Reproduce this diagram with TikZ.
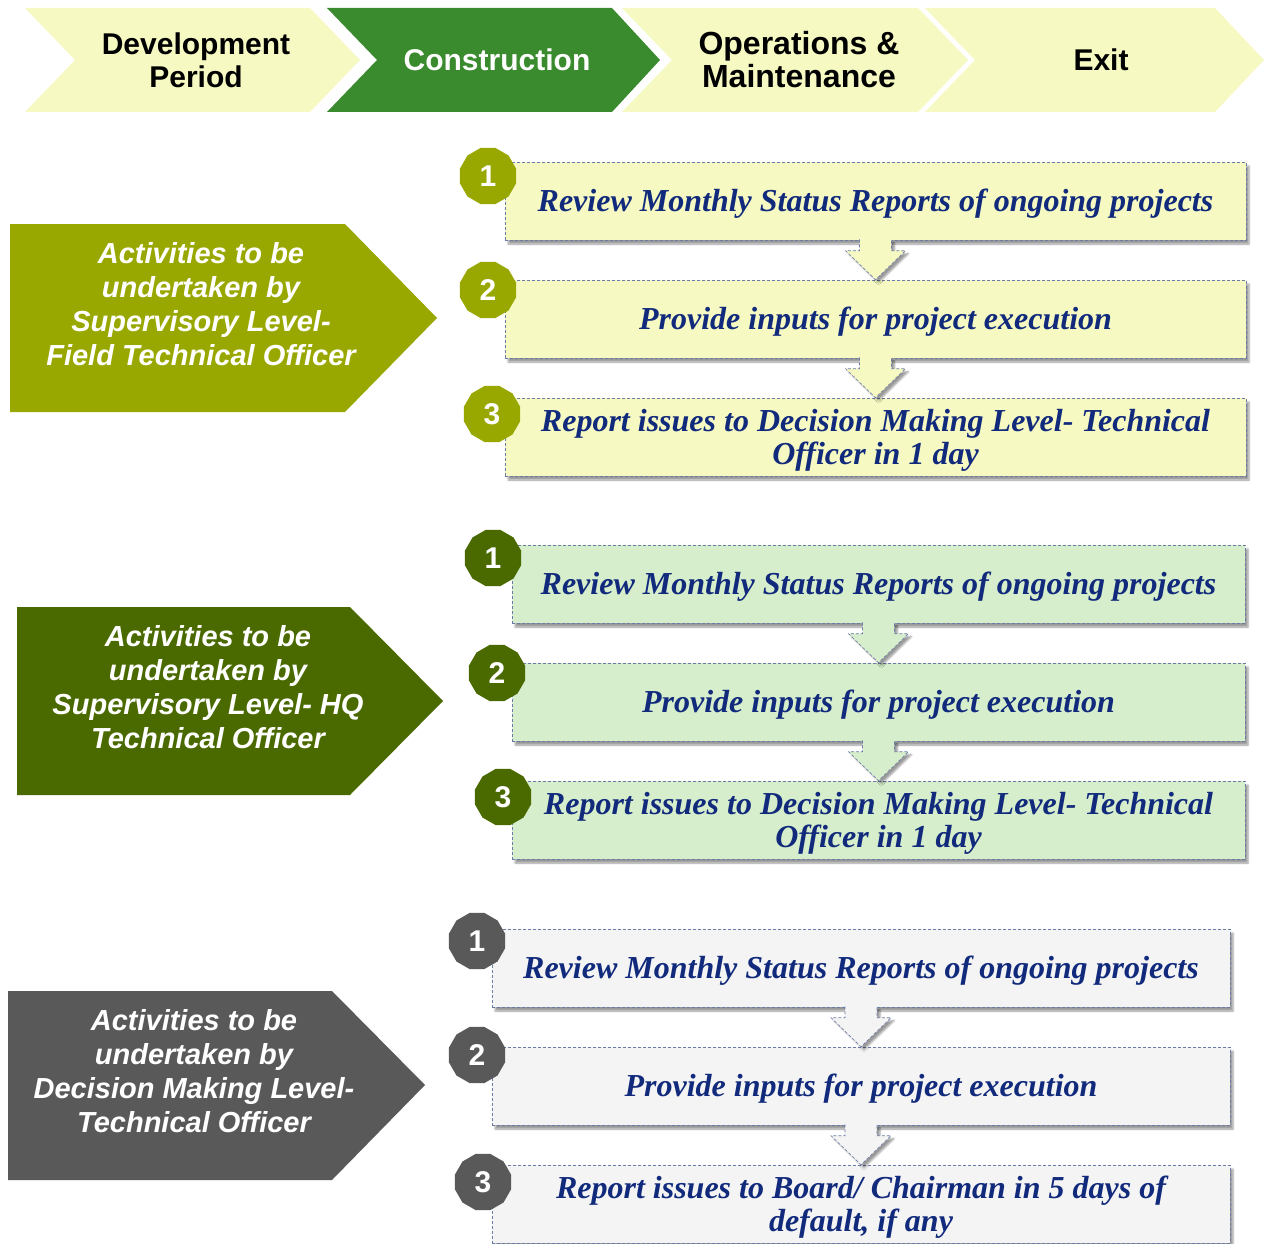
\documentclass[tikz,border=0pt]{standalone}
\usepackage{fontspec}
\setmainfont{Liberation Serif}
\setsansfont{Liberation Sans}
\usetikzlibrary{shapes.geometric,calc,shadows,shadows.blur}

\definecolor{paleY}{HTML}{F6FAC2}
\definecolor{buildG}{HTML}{3A8A2E}
\definecolor{olive}{HTML}{99A800}
\definecolor{forest}{HTML}{4A6A00}
\definecolor{slate}{HTML}{595959}
\definecolor{mint}{HTML}{D6EECB}
\definecolor{mist}{HTML}{F4F4F4}
\definecolor{navy}{HTML}{112A7C}
\definecolor{edge}{HTML}{6A7BA8}

\tikzset{
  phasetext/.style={font=\fontsize{30}{33}\selectfont\sffamily\bfseries, align=center, inner sep=0},
  roletext/.style={font=\fontsize{29}{34}\selectfont\sffamily\bfseries\itshape, text=white, align=center, inner sep=0},
  stepbox/.style={draw=edge, densely dashed, line width=0.6pt, inner sep=0,
    minimum height=78pt,
    blur shadow={shadow xshift=3pt, shadow yshift=-4pt}},
  steptext/.style={font=\fontsize{32}{33}\selectfont\bfseries\itshape, text=navy, align=center, inner sep=0},
  badge/.style={regular polygon, regular polygon sides=12, minimum size=58pt, inner sep=0,
    text=white, font=\fontsize{30}{30}\selectfont\sffamily\bfseries},
  flowarrow/.style={draw=edge, densely dashed, line width=0.6pt,
    blur shadow={shadow xshift=3pt, shadow yshift=-3pt}},
}

% block arrow from the bottom of one step box to the top of the next
\newcommand\blockarrow[3]{%
  \path[flowarrow, fill=#3]
    ($(#1.south)+(-16,-1)$) -- ($(#2.north)+(-16,-29)$) -- ($(#2.north)+(-30,-29)$)
    -- (#2.north) -- ($(#2.north)+(30,-29)$) -- ($(#2.north)+(16,-29)$)
    -- ($(#1.south)+(16,-1)$);}

% caption of a step box, set on the box centre
\newcommand\steplabel[2]{\node[steptext] (#1t) at ([yshift=-3pt]#1.center) {#2};}

\begin{document}
\begin{tikzpicture}[x=1pt, y=-1pt]
\useasboundingbox (0,0) rectangle (1264,1244);

% ---- phase chevrons along the top ----
\fill[paleY] (25,8) -- (310,8) -- (360,60) -- (310,112) -- (25,112) -- (75,60) -- cycle;
\fill[buildG] (327,8) -- (612,8) -- (660,60) -- (612,112) -- (327,112) -- (377,60) -- cycle;
\fill[paleY] (622,8) -- (918,8) -- (968,60) -- (918,112) -- (622,112) -- (672,60) -- cycle;
\fill[paleY] (925,8) -- (1215,8) -- (1264,60) -- (1215,112) -- (925,112) -- (975,60) -- cycle;
\node[phasetext] (dev) at (196,60) {Development\\Period};
\node[phasetext, text=white] (con) at (497,60) {Construction};
\node[phasetext, font=\fontsize{32}{33}\selectfont\sffamily\bfseries] (om) at (799,60) {Operations \&\\Maintenance};
\node[phasetext] (exit) at (1101,60) {Exit};

% ---- role chevrons on the left ----
\fill[olive] (10,224) -- (345,224) -- (437,318) -- (345,412) -- (10,412) -- cycle;
\fill[forest] (17,607) -- (350,607) -- (443,701) -- (350,795) -- (17,795) -- cycle;
\fill[slate] (8,991) -- (332,991) -- (425,1085) -- (332,1180) -- (8,1180) -- cycle;
\node[roletext] (r1) at (201,304) {Activities to be\\undertaken by\\Supervisory Level-\\Field Technical Officer};
\node[roletext] (r2) at (208,687) {Activities to be\\undertaken by\\Supervisory Level- HQ\\Technical Officer};
\node[roletext] (r3) at (194,1071) {Activities to be\\undertaken by\\Decision Making Level-\\Technical Officer};

% ---- field officer steps ----
\node[stepbox, fill=paleY, minimum width=741pt] (a1) at (875.5,201) {};
\node[stepbox, fill=paleY, minimum width=741pt] (a2) at (875.5,319) {};
\node[stepbox, fill=paleY, minimum width=741pt] (a3) at (875.5,437) {};

% ---- HQ officer steps ----
\node[stepbox, fill=mint, minimum width=733pt] (b1) at (878.5,584) {};
\node[stepbox, fill=mint, minimum width=733pt] (b2) at (878.5,702) {};
\node[stepbox, fill=mint, minimum width=733pt] (b3) at (878.5,820) {};

% ---- decision making officer steps ----
\node[stepbox, fill=mist, minimum width=738pt] (c1) at (861,968) {};
\node[stepbox, fill=mist, minimum width=738pt] (c2) at (861,1086) {};
\node[stepbox, fill=mist, minimum width=738pt] (c3) at (861,1204) {};

\steplabel{a1}{Review Monthly Status Reports of ongoing projects}
\steplabel{a2}{Provide inputs for project execution}
\steplabel{a3}{Report issues to Decision Making Level- Technical\\Officer in 1 day}
\steplabel{b1}{Review Monthly Status Reports of ongoing projects}
\steplabel{b2}{Provide inputs for project execution}
\steplabel{b3}{Report issues to Decision Making Level- Technical\\Officer in 1 day}
\steplabel{c1}{Review Monthly Status Reports of ongoing projects}
\steplabel{c2}{Provide inputs for project execution}
\steplabel{c3}{Report issues to Board/ Chairman in 5 days of\\default, if any}

% ---- arrows between steps ----
\blockarrow{a1}{a2}{paleY}
\blockarrow{a2}{a3}{paleY}
\blockarrow{b1}{b2}{mint}
\blockarrow{b2}{b3}{mint}
\blockarrow{c1}{c2}{mist}
\blockarrow{c2}{c3}{mist}

% ---- numbered badges ----
\node[badge, fill=olive] (na1) at (488,176) {1};
\node[badge, fill=olive] (na2) at (488,290) {2};
\node[badge, fill=olive] (na3) at (492,414) {3};
\node[badge, fill=forest] (nb1) at (493,558) {1};
\node[badge, fill=forest] (nb2) at (497,673) {2};
\node[badge, fill=forest] (nb3) at (503,797) {3};
\node[badge, fill=slate] (nc1) at (477,941) {1};
\node[badge, fill=slate] (nc2) at (477,1055) {2};
\node[badge, fill=slate] (nc3) at (483,1182) {3};
\end{tikzpicture}
\end{document}
